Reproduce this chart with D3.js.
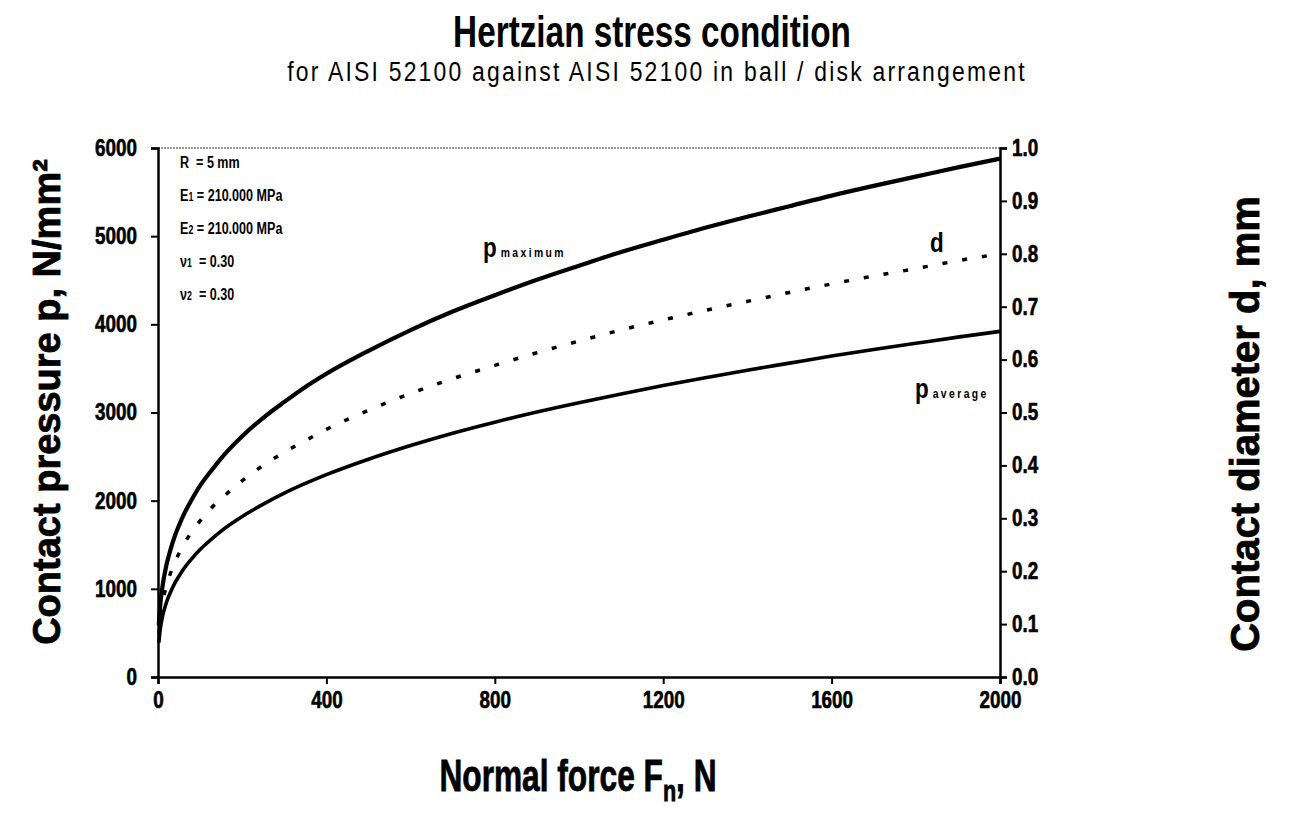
<!DOCTYPE html>
<html>
<head>
<meta charset="utf-8">
<script src="https://cdn.jsdelivr.net/npm/d3@7"></script>
<style>
  body { margin: 0; background: #fff; }
  svg { display: block; }
</style>
</head>
<body>
<div id="chart"></div>
<script>
// normal force, N
const force = [2, 5, 10, 20, 30, 40, 50, 60, 80, 100, 125, 150, 200, 250, 300, 350, 400, 500, 600, 700, 800, 900, 1000, 1100, 1200, 1300, 1400, 1500, 1600, 1700, 1800, 1900, 2000];
// maximum contact pressure, N/mm2
const pMax = [590, 800, 1005, 1270, 1450, 1600, 1720, 1830, 2010, 2170, 2330, 2480, 2730, 2940, 3120, 3290, 3440, 3700, 3935, 4145, 4330, 4505, 4665, 4820, 4960, 5095, 5220, 5340, 5460, 5570, 5675, 5780, 5880];
// average contact pressure, N/mm2
const pAvg = [390, 530, 670, 845, 965, 1065, 1145, 1220, 1340, 1445, 1555, 1655, 1820, 1960, 2085, 2195, 2295, 2470, 2625, 2765, 2890, 3005, 3110, 3210, 3305, 3395, 3480, 3560, 3640, 3715, 3785, 3855, 3920];
// contact diameter, mm
const diam = [0.080, 0.109, 0.137, 0.172, 0.197, 0.217, 0.234, 0.249, 0.274, 0.295, 0.318, 0.337, 0.371, 0.400, 0.425, 0.447, 0.468, 0.504, 0.536, 0.564, 0.589, 0.613, 0.635, 0.656, 0.675, 0.693, 0.710, 0.727, 0.743, 0.758, 0.772, 0.787, 0.800];

const xTicks = [0, 400, 800, 1200, 1600, 2000];
const yTicks = [0, 1000, 2000, 3000, 4000, 5000, 6000];
const y2Ticks = [0, 0.1, 0.2, 0.3, 0.4, 0.5, 0.6, 0.7, 0.8, 0.9, 1.0];

const params = [
  { main: "R", sub: "", rest: "  = 5 mm" },
  { main: "E", sub: "1", rest: " = 210.000 MPa" },
  { main: "E", sub: "2", rest: " = 210.000 MPa" },
  { main: "ν", sub: "1", rest: "  = 0.30" },
  { main: "ν", sub: "2", rest: "  = 0.30" }
];

const W = 1293, H = 821;
const font = "'Liberation Sans', Arial, sans-serif";
const NARROW = 0.8; // horizontal squeeze of the text in the picture

const margin = { left: 158, right: 1000, top: 148, bottom: 677 };

const svg = d3.select("#chart").append("svg")
  .attr("width", W)
  .attr("height", H)
  .style("font-family", font);

const x = d3.scaleLinear().domain([0, 2000]).range([margin.left, margin.right]);
const y = d3.scaleLinear().domain([0, 6000]).range([margin.bottom, margin.top]);
const y2 = d3.scaleLinear().domain([0, 1]).range([margin.bottom, margin.top]);

// squeezed text helper
function sText(px, py, sx, size, weight) {
  return svg.append("text")
    .attr("transform", `translate(${px},${py}) scale(${sx},1)`)
    .attr("text-anchor", "middle")
    .style("font-weight", weight).style("font-size", size + "px");
}

// titles
sText(652, 47, 0.74, 45, "bold").text("Hertzian stress condition");
sText(657, 81, 0.85, 27, "normal").style("letter-spacing", "2.6px").text("for AISI 52100 against AISI 52100 in ball / disk arrangement");

// top border (thin dotted)
svg.append("line")
  .attr("x1", margin.left).attr("x2", margin.right)
  .attr("y1", margin.top).attr("y2", margin.top)
  .attr("stroke", "#777").attr("stroke-width", 1.5)
  .attr("stroke-dasharray", "2 1");

// axes
const gx = svg.append("g")
  .attr("transform", `translate(0,${margin.bottom})`)
  .call(d3.axisBottom(x).tickValues(xTicks).tickSize(7).tickPadding(3).tickFormat(d3.format("d")));

const gy = svg.append("g")
  .attr("transform", `translate(${margin.left},0)`)
  .call(d3.axisLeft(y).tickValues(yTicks).tickSize(7).tickPadding(14).tickFormat(d3.format("d")));

const gy2 = svg.append("g")
  .attr("transform", `translate(${margin.right},0)`)
  .call(d3.axisRight(y2).tickValues(y2Ticks).tickSize(7).tickPadding(5).tickFormat(d3.format(".1f")));

[gx, gy, gy2].forEach(g => {
  g.select(".domain").attr("stroke", "#000").attr("stroke-width", 2.5);
  g.selectAll(".tick line").attr("stroke", "#000").attr("stroke-width", 2);
  g.selectAll(".tick text")
    .style("font-family", font).style("font-weight", "bold").style("font-size", "23px")
    .style("stroke", "#000").style("stroke-width", "0.6px")
    .attr("fill", "#000")
    .attr("x", function() { return +d3.select(this).attr("x") / 0.82 || 0; })
    .attr("transform", "scale(0.82,1)");
});
gx.selectAll(".tick text").attr("dy", "0.9em");

// axis titles
svg.append("text")
  .attr("transform", "translate(60,402) rotate(-90)")
  .attr("text-anchor", "middle")
  .attr("stroke", "#000").attr("stroke-width", 0.8)
  .style("font-weight", "bold").style("font-size", "38px")
  .text("Contact pressure p, N/mm²");

svg.append("text")
  .attr("transform", "translate(1259,424) rotate(-90)")
  .attr("text-anchor", "middle")
  .attr("stroke", "#000").attr("stroke-width", 0.8)
  .style("font-weight", "bold").style("font-size", "40px")
  .text("Contact diameter d, mm");

const xt = sText(578, 791, 0.72, 44, "bold").attr("stroke", "#000").attr("stroke-width", 0.8);
xt.append("tspan").text("Normal force F");
xt.append("tspan").attr("dy", 10).style("font-size", "30px").text("n");
xt.append("tspan").attr("dy", -10).text(", N");

// curves
const lineP = d3.line().x((d, i) => x(force[i])).y(d => y(d)).curve(d3.curveMonotoneX);
const lineD = d3.line().x((d, i) => x(force[i])).y(d => y2(d)).curve(d3.curveMonotoneX);

svg.append("path").datum(pMax)
  .attr("d", lineP).attr("fill", "none")
  .attr("stroke", "#000").attr("stroke-width", 4.2);

svg.append("path").datum(pAvg)
  .attr("d", lineP).attr("fill", "none")
  .attr("stroke", "#000").attr("stroke-width", 3.6);

svg.append("path").datum(diam)
  .attr("d", lineD).attr("fill", "none")
  .attr("stroke", "#000").attr("stroke-width", 3.5)
  .attr("stroke-dasharray", "5 15");

// curve labels
function curveLabel(px, py, big, small) {
  const t = svg.append("text")
    .attr("transform", `translate(${px},${py}) scale(${NARROW},1)`)
    .style("font-weight", "bold");
  t.append("tspan").style("font-size", "28px").text(big);
  if (small) t.append("tspan").attr("dx", 5).style("font-size", "13px").style("letter-spacing", "3px").text(small);
}
curveLabel(483, 257, "p", "maximum");
curveLabel(930, 252, "d", null);
curveLabel(915, 398, "p", "average");

// parameter block
params.forEach((p, i) => {
  const t = svg.append("text")
    .attr("transform", `translate(180,${168 + i * 33}) scale(0.74,1)`)
    .attr("xml:space", "preserve")
    .style("font-weight", "bold").style("font-size", "17px");
  t.append("tspan").text(p.main);
  if (p.sub) t.append("tspan").style("font-size", "12px").text(p.sub);
  t.append("tspan").text(p.rest);
});
</script>
</body>
</html>
